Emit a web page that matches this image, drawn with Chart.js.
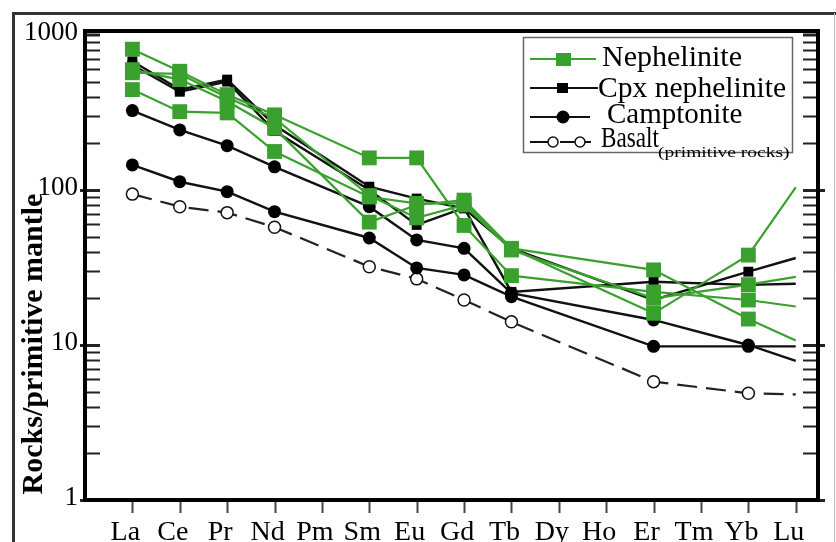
<!DOCTYPE html>
<html>
<head>
<meta charset="utf-8">
<script src="https://cdn.jsdelivr.net/npm/chart.js@4.4.1/dist/chart.umd.min.js"></script>
<style>
	body { margin: 0; background: #fff; }
	#wrap { width: 836px; height: 542px; }
</style>
</head>
<body>
<div id="wrap"><canvas id="reeChart" width="836" height="542"></canvas></div>
<script>
// REE pattern, normalised to primitive mantle
const elements = ['La', 'Ce', 'Pr', 'Nd', 'Pm', 'Sm', 'Eu', 'Gd', 'Tb', 'Dy', 'Ho', 'Er', 'Tm', 'Yb', 'Lu'];

// nephelinite samples (green squares)
const neph1 = [809, 583, 412, 305, null, 161, 161, 59, 28, null, null, 22, null, 19.5, 17.7];
const neph2 = [597, 515, 373, 250, null, 62, 80, 86, 42, null, null, 16, null, 38, 104];
const neph3 = [444, 320, 314, 177, null, 90, 82, 82, 42, null, null, 30.5, null, 14.7, 10.7];
const neph4 = [570, 560, 395, 290, null, 92, 66, 80, 41, null, null, 20, null, 24.5, 27.5];

// cpx nephelinite (small black squares)
const cpx1 = [676, 444, 515, 262, null, 105, 88, 76, 42, null, null, 19.5, null, 29.7, 36.4];
const cpx2 = [640, 430, 500, 240, null, 100, 59.5, 76.5, 22, null, null, 25.6, null, 24.4, 24.8];

// camptonite (black circles)
const camp1 = [325, 244, 193, 141, null, 78, 47.6, 42, 21.6, null, null, 14.5, null, 10, 7.9];
const camp2 = [145, 113, 97.5, 72.4, null, 49, 31.4, 28.3, 20.5, null, null, 9.8, null, 9.8, 9.8];

// primitive basalt (open circles, dashed)
const basalt = [94, 78, 71.4, 57.5, null, 32, 26.7, 19.5, 14.1, null, null, 5.8, null, 4.88, 4.8];

const yTicks = [1, 10, 100, 1000];
const yTickLabels = ['1', '10', '100', '1000'];
const yTitle = 'Rocks/primitive mantle';

const SERIF = '"Liberation Serif", "Times New Roman", serif';
const green = 'rgb(58,160,46)';
const lastIdx = elements.length - 1;

// turn a value list into x/y points
function pts(arr) {
	return arr.map((v, i) => ({ x: i, y: v }));
}
// no marker on Lu, the lines just end there
function noLu(r) {
	return c => c.dataIndex === lastIdx ? 0 : r;
}

function nephSet(vals) {
	return {
		data: pts(vals), borderColor: green, backgroundColor: green, borderWidth: 2.2,
		pointStyle: 'rect', pointRadius: noLu(10.5), pointBorderWidth: 0
	};
}
function cpxSet(vals) {
	return {
		data: pts(vals), borderColor: '#111', backgroundColor: '#000', borderWidth: 2.4,
		pointStyle: 'rect', pointRadius: noLu(7), pointBorderWidth: 0
	};
}
function campSet(vals) {
	return {
		data: pts(vals), borderColor: '#111', backgroundColor: '#000', borderWidth: 2.4,
		pointStyle: 'circle', pointRadius: noLu(6.5), pointBorderWidth: 0
	};
}

const datasets = [
	nephSet(neph1), nephSet(neph2), nephSet(neph3), nephSet(neph4),
	cpxSet(cpx1), cpxSet(cpx2),
	campSet(camp1), campSet(camp2),
	{
		data: pts(basalt), borderColor: '#222', borderWidth: 2.2, borderDash: [20, 9],
		pointStyle: 'circle', pointRadius: noLu(6), pointBackgroundColor: '#fff',
		pointBorderColor: '#111', pointBorderWidth: 1.5
	}
];

// squashed / stretched text helper
function drawText(ctx, str, x, y, font, sx) {
	ctx.save();
	ctx.translate(x, y);
	ctx.scale(sx || 1, 1);
	ctx.font = font;
	ctx.textAlign = 'left';
	ctx.textBaseline = 'alphabetic';
	ctx.fillStyle = '#000';
	ctx.fillText(str, 0, 0);
	ctx.restore();
}

// frame, inward ticks, y title and legend
const decor = {
	id: 'decor',
	afterDraw(chart) {
		const ctx = chart.ctx;
		const a = chart.chartArea;
		const xs = chart.scales.x, ys = chart.scales.y;
		ctx.save();

		// outer figure frame
		ctx.strokeStyle = '#333';
		ctx.lineWidth = 3;
		ctx.beginPath();
		ctx.moveTo(13.5, 542);
		ctx.lineTo(13.5, 13.5);
		ctx.lineTo(836, 13.5);
		ctx.stroke();
		ctx.strokeStyle = '#bbb';
		ctx.lineWidth = 1;
		ctx.beginPath();
		ctx.moveTo(834.5, 13);
		ctx.lineTo(834.5, 542);
		ctx.stroke();

		// y ticks (inward, both sides)
		ctx.strokeStyle = '#222';
		[1, 10, 100].forEach(d => {
			for (let m = 1; m <= 9; m++) {
				const py = Math.round(ys.getPixelForValue(d * m)) + 0.5;
				const major = m === 1;
				ctx.lineWidth = major ? 3 : 2;
				ctx.beginPath();
				ctx.moveTo(a.left - (major ? 5 : 0), py);
				ctx.lineTo(a.left + 15, py);
				ctx.moveTo(a.right + (major ? 7 : 0), py);
				ctx.lineTo(a.right - 15, py);
				ctx.stroke();
			}
		});
		const pTop = ys.getPixelForValue(1000);
		ctx.lineWidth = 3;
		ctx.beginPath();
		ctx.moveTo(a.left, pTop); ctx.lineTo(a.left + 15, pTop);
		ctx.moveTo(a.right, pTop); ctx.lineTo(a.right - 15, pTop);
		ctx.stroke();

		// x ticks (outward)
		ctx.strokeStyle = '#444';
		ctx.lineWidth = 2;
		elements.forEach((e, i) => {
			const px = Math.round(xs.getPixelForValue(i)) + 0.5;
			ctx.beginPath();
			ctx.moveTo(px, a.bottom);
			ctx.lineTo(px, a.bottom + 13);
			ctx.stroke();
		});

		// plot box
		ctx.strokeStyle = '#000';
		ctx.lineWidth = 4;
		ctx.strokeRect(a.left, a.top, a.right - a.left, a.bottom - a.top);

		// y axis title
		ctx.save();
		ctx.translate(42, 344);
		ctx.rotate(-Math.PI / 2);
		ctx.font = 'bold 30px ' + SERIF;
		ctx.textAlign = 'center';
		ctx.textBaseline = 'alphabetic';
		ctx.fillStyle = '#000';
		ctx.fillText(yTitle, 0, 0);
		ctx.restore();

		// legend
		ctx.fillStyle = '#fff';
		ctx.fillRect(523, 37, 269, 115);
		ctx.strokeStyle = '#666';
		ctx.lineWidth = 1.5;
		ctx.strokeRect(523.5, 37.5, 269, 115);

		ctx.lineWidth = 2;
		// nephelinite
		ctx.strokeStyle = green;
		ctx.beginPath(); ctx.moveTo(530, 59); ctx.lineTo(596, 59); ctx.stroke();
		ctx.fillStyle = green;
		ctx.fillRect(556, 53, 15, 13);
		// cpx nephelinite
		ctx.strokeStyle = '#111';
		ctx.beginPath(); ctx.moveTo(530, 88); ctx.lineTo(598, 88); ctx.stroke();
		ctx.fillStyle = '#000';
		ctx.fillRect(557, 83, 11, 10);
		// camptonite
		ctx.beginPath(); ctx.moveTo(530, 117); ctx.lineTo(590, 117); ctx.stroke();
		ctx.beginPath(); ctx.arc(563, 117, 6.5, 0, Math.PI * 2); ctx.fill();
		// basalt
		ctx.beginPath();
		ctx.moveTo(530, 142); ctx.lineTo(548, 142);
		ctx.moveTo(560, 142); ctx.lineTo(575, 142);
		ctx.moveTo(585, 142); ctx.lineTo(591, 142);
		ctx.stroke();
		ctx.lineWidth = 1.5;
		[553, 580].forEach(cx => {
			ctx.beginPath(); ctx.arc(cx, 142, 5, 0, Math.PI * 2);
			ctx.fillStyle = '#fff'; ctx.fill(); ctx.stroke();
		});

		drawText(ctx, 'Nephelinite', 602, 66, '30px ' + SERIF, 1);
		drawText(ctx, 'Cpx nephelinite', 598, 97, '29px ' + SERIF, 1.02);
		drawText(ctx, 'Camptonite', 607, 123, '29px ' + SERIF, 1);
		drawText(ctx, 'Basalt', 601, 147, '29px ' + SERIF, 0.8);
		drawText(ctx, '(primitive rocks)', 658, 157, '15px ' + SERIF, 1.3);

		ctx.restore();
	}
};

const reeChart = new Chart(document.getElementById('reeChart'), {
	type: 'line',
	data: { datasets: datasets },
	options: {
		responsive: false,
		animation: false,
		spanGaps: true,
		layout: { padding: { left: 0, right: 18, top: 31, bottom: 0 } },
		plugins: { legend: { display: false }, tooltip: { enabled: false } },
		scales: {
			x: {
				type: 'linear', min: -1, max: 14.47,
				afterBuildTicks: s => { s.ticks = elements.map((e, i) => ({ value: i })); },
				afterFit: s => { s.height = 42; },
				grid: { display: false, drawTicks: false },
				border: { display: false },
				ticks: {
					callback: v => elements[v],
					font: { family: SERIF, size: 28 }, color: '#000',
					padding: 16, labelOffset: -7, maxRotation: 0, autoSkip: false
				}
			},
			y: {
				type: 'logarithmic', min: 1, max: 1060,
				afterBuildTicks: s => { s.ticks = yTicks.map(v => ({ value: v })); },
				afterFit: s => { s.width = 85; },
				grid: { display: false, drawTicks: false },
				border: { display: false },
				ticks: {
					callback: (v, i) => yTickLabels[i],
					font: { family: SERIF, size: 27 }, color: '#000',
					padding: 7, labelOffset: -2
				}
			}
		}
	},
	plugins: [decor]
});
</script>
</body>
</html>
